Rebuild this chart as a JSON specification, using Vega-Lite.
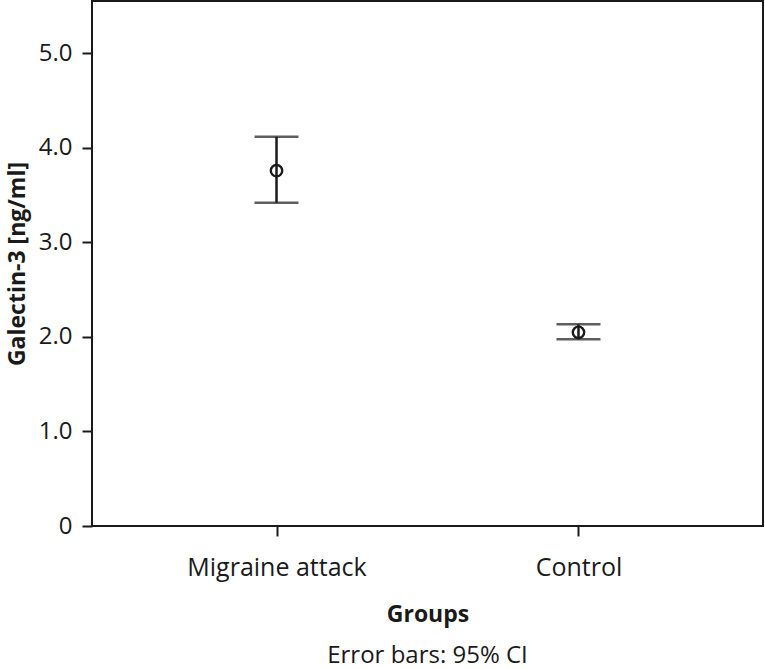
{
  "$schema": "https://vega.github.io/schema/vega-lite/v6.json",
  "autosize": "none",
  "width": 671,
  "height": 525,
  "padding": {"left": 92, "top": 1, "right": 2, "bottom": 143},
  "background": "white",
  "config": {
    "font": "Open Sans",
    "view": {"stroke": "#1a1a1a", "strokeWidth": 2},
    "axis": {
      "domainColor": "#1a1a1a", "domainWidth": 2,
      "tickColor": "#1a1a1a", "tickWidth": 2, "tickSize": 10,
      "labelFont": "Open Sans", "labelFontSize": 24, "labelColor": "#1a1a1a",
      "titleFont": "Open Sans", "titleFontSize": 23, "titleFontWeight": "bold", "titleColor": "#1a1a1a",
      "grid": false
    }
  },
  "title": {
    "text": "Error bars: 95% CI",
    "orient": "bottom",
    "anchor": "middle",
    "font": "Open Sans",
    "fontSize": 24,
    "fontWeight": "normal",
    "color": "#1a1a1a",
    "offset": 18
  },
  "data": {
    "values": [
      {"group": "Migraine attack", "mean": 3.756, "lo": 3.418, "hi": 4.115},
      {"group": "Control", "mean": 2.047, "lo": 1.973, "hi": 2.132}
    ]
  },
  "encoding": {
    "x": {
      "field": "group", "type": "nominal", "sort": ["Migraine attack", "Control"],
      "scale": {"type": "point", "padding": 0.611},
      "axis": {"title": "Groups", "labelAngle": 0, "labelFontSize": 25, "labelPadding": 19, "titlePadding": 23, "domain": false}
    }
  },
  "layer": [
    {
      "mark": {"type": "rule", "color": "#1a1a1a", "strokeWidth": 2.5},
      "encoding": {
        "y": {"field": "lo", "type": "quantitative",
          "scale": {"domain": [0, 5.55], "nice": false, "zero": true},
          "axis": {"title": "Galectin-3 [ng/ml]", "values": [0, 1, 2, 3, 4, 5],
            "labelExpr": "datum.value == 0 ? '0' : format(datum.value, '.1f')",
            "labelPadding": 10, "titlePadding": 9, "domain": false}},
        "y2": {"field": "hi"}
      }
    },
    {
      "mark": {"type": "tick", "orient": "horizontal", "color": "#1a1a1a", "size": 44, "thickness": 2.5},
      "encoding": {"y": {"field": "lo", "type": "quantitative"}}
    },
    {
      "mark": {"type": "tick", "orient": "horizontal", "color": "#1a1a1a", "size": 44, "thickness": 2.5},
      "encoding": {"y": {"field": "hi", "type": "quantitative"}}
    },
    {
      "mark": {"type": "point", "shape": "circle", "filled": false, "color": "#1a1a1a", "strokeWidth": 2.4, "size": 130, "opacity": 1},
      "encoding": {"y": {"field": "mean", "type": "quantitative"}}
    }
  ]
}
